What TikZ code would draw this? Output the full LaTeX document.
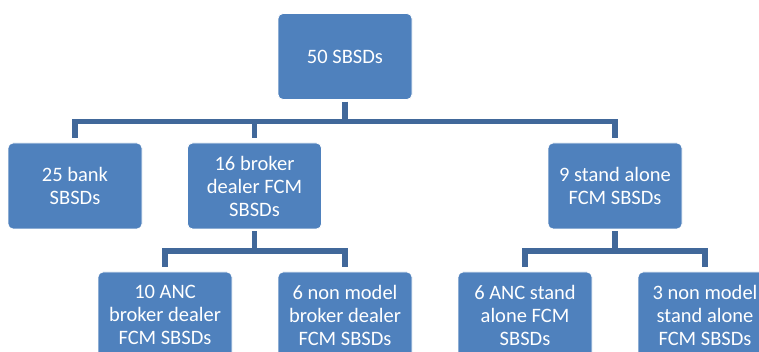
\documentclass[tikz,border=0pt]{standalone}
\usepackage{fontspec}
\setmainfont{Carlito}
\usepackage{tikz}
\definecolor{boxblue}{HTML}{4F81BD}
\definecolor{linkblue}{HTML}{41689A}

\begin{document}
\begin{tikzpicture}[x=1pt,y=1pt,
    box/.style={draw=white, line width=0.8pt, fill=boxblue, rounded corners=5pt,
        minimum width=134pt, minimum height=86pt, inner sep=0pt, text=white,
        align=center, font=\fontsize{20.5}{23}\selectfont},
    link/.style={draw=linkblue, line width=5.5pt}]
        \clip (0,0) rectangle (759,352);
        \node[box] (root) at (345,295.5) {50 SBSDs};
        \node[box] (bank) at (75,166) {25 bank\\SBSDs};
        \node[box] (bd) at (254.5,166) {16 broker\\dealer FCM\\SBSDs};
        \node[box] (sa) at (615,166) {9 stand alone\\FCM SBSDs};
        \node[box] (bdanc) at (165,37) {10 ANC\\broker dealer\\FCM SBSDs};
        \node[box] (bdnon) at (345,37) {6 non model\\broker dealer\\FCM SBSDs};
        \node[box] (saanc) at (525,37) {6 ANC stand\\alone FCM\\SBSDs};
        \node[box] (sanon) at (705,37) {3 non model\\stand alone\\FCM SBSDs};
        \draw[link] ([yshift=-2pt]root.south) -- ++(0,-19.5) -| ([yshift=5pt]bank.north);
        \draw[link] ([yshift=-2pt]root.south) -- ++(0,-19.5) -| ([yshift=5pt]bd.north);
        \draw[link] ([yshift=-2pt]root.south) -- ++(0,-19.5) -| ([yshift=5pt]sa.north);
        \draw[link] ([yshift=-2pt]bd.south) -- ++(0,-19.5) -| ([yshift=5pt]bdanc.north);
        \draw[link] ([yshift=-2pt]bd.south) -- ++(0,-19.5) -| ([yshift=5pt]bdnon.north);
        \draw[link] ([yshift=-2pt]sa.south) -- ++(0,-19.5) -| ([yshift=5pt]saanc.north);
        \draw[link] ([yshift=-2pt]sa.south) -- ++(0,-19.5) -| ([yshift=5pt]sanon.north);
    \end{tikzpicture}
\end{document}
